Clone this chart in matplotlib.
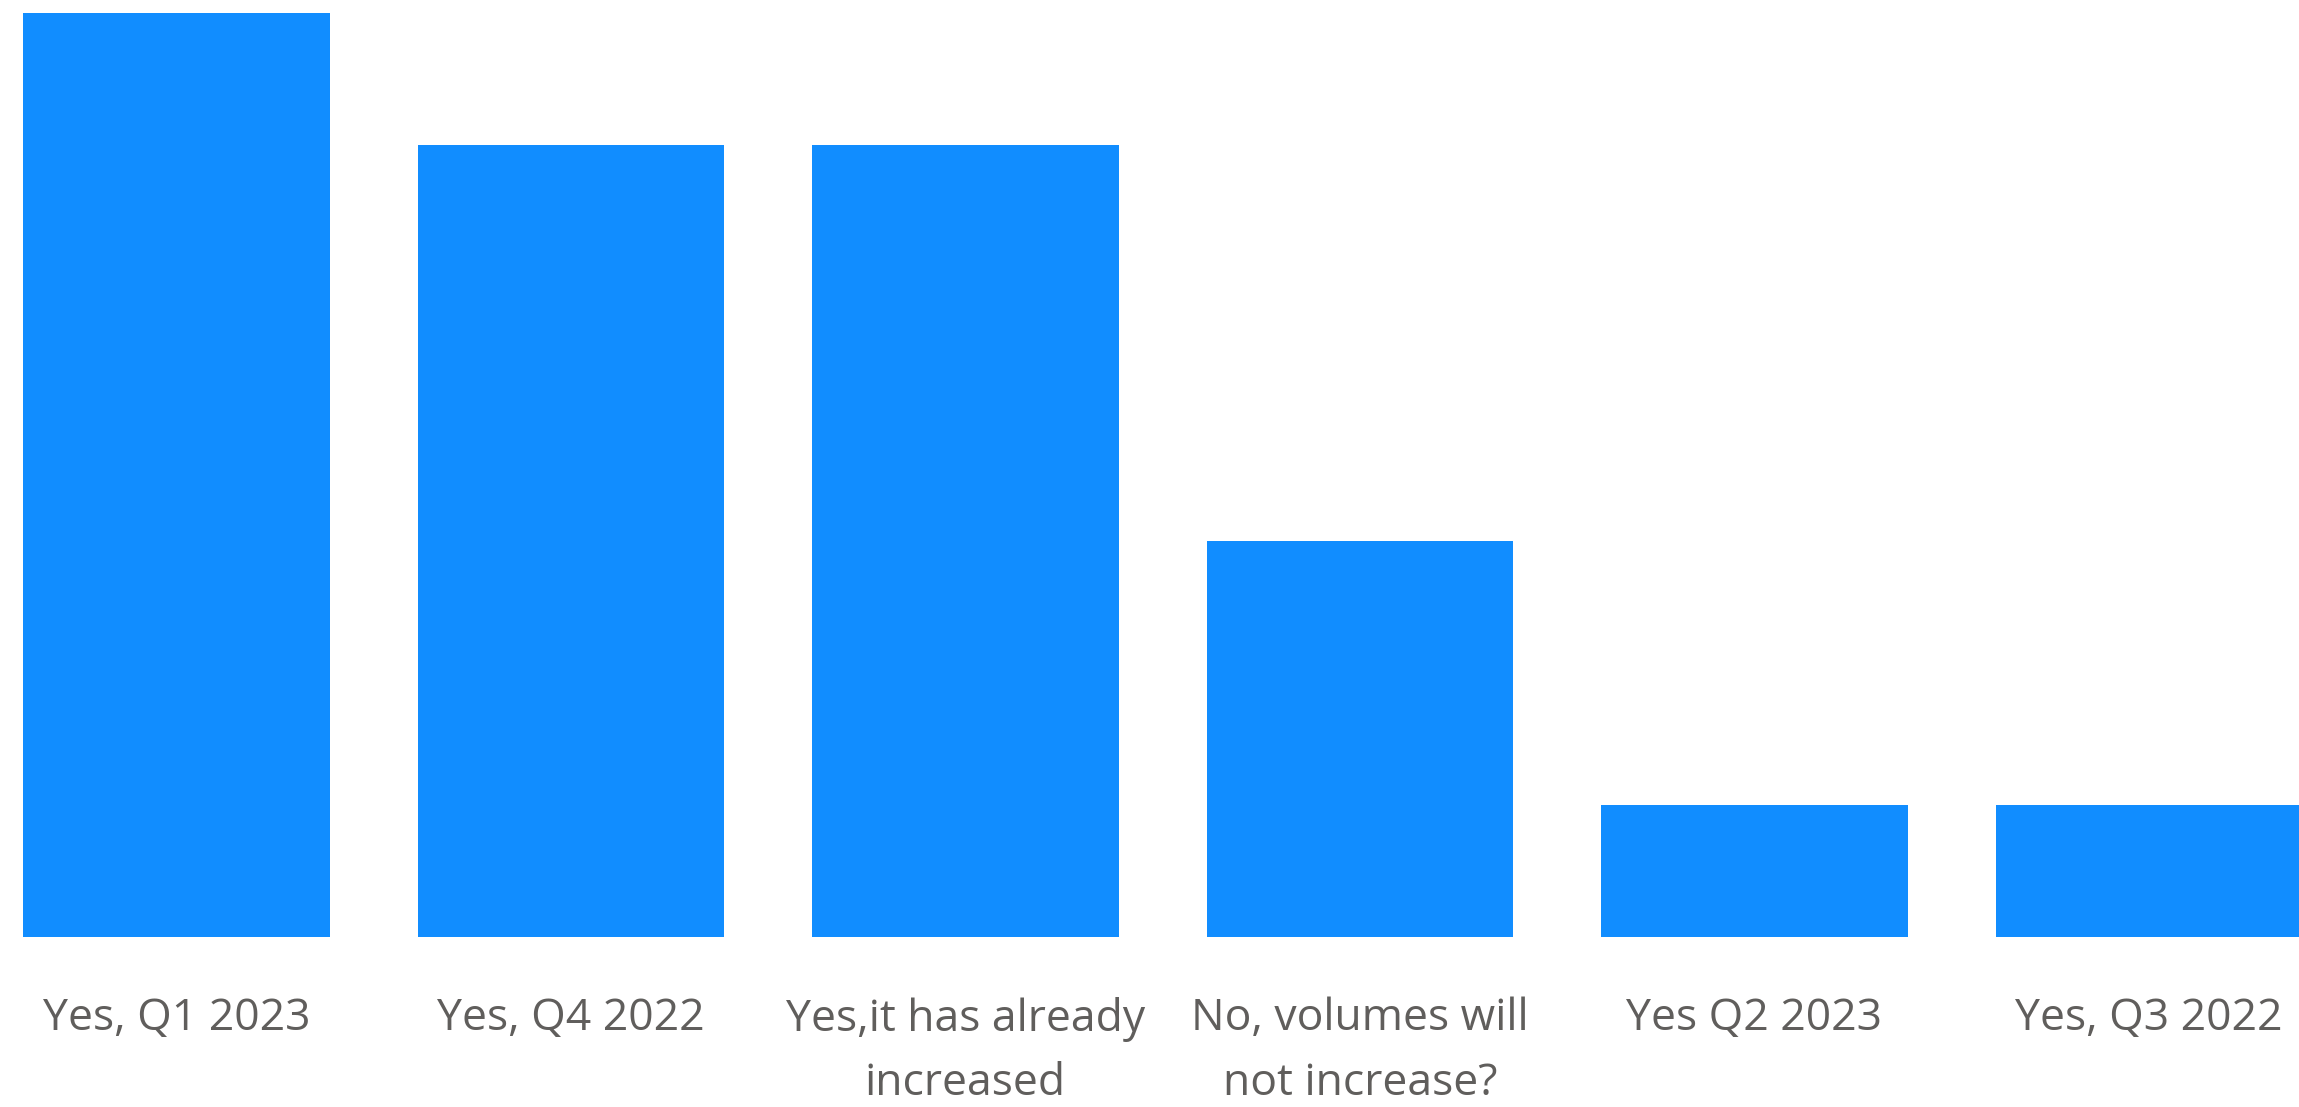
import numpy as np
import matplotlib.pyplot as plt

categories = ["Yes, Q1 2023", "Yes, Q4 2022", "Yes,it has already\nincreased",
              "No, volumes will\nnot increase?", "Yes Q2 2023", "Yes, Q3 2022"]
counts = [7, 6, 6, 3, 1, 1]

plt.rcParams['font.family'] = ['Open Sans', 'DejaVu Sans']

fig = plt.figure(figsize=(22.99, 11.07), dpi=100)
ax = fig.add_axes([0, 0.1536, 1, 0.8464])

x = np.arange(len(categories))
ax.bar(x, counts, width=0.777, color="#118DFF")

ax.set_xlim(-0.448, 5.381)
ax.set_ylim(0, 7.098)
ax.set_xticks(x)
ax.set_xticklabels(categories, fontsize=32, color="#605E5C", linespacing=1.6)
ax.tick_params(axis='x', length=0, pad=43)
ax.set_yticks([])
for s in ax.spines.values():
    s.set_visible(False)

fig.savefig("out.png", dpi=100)
